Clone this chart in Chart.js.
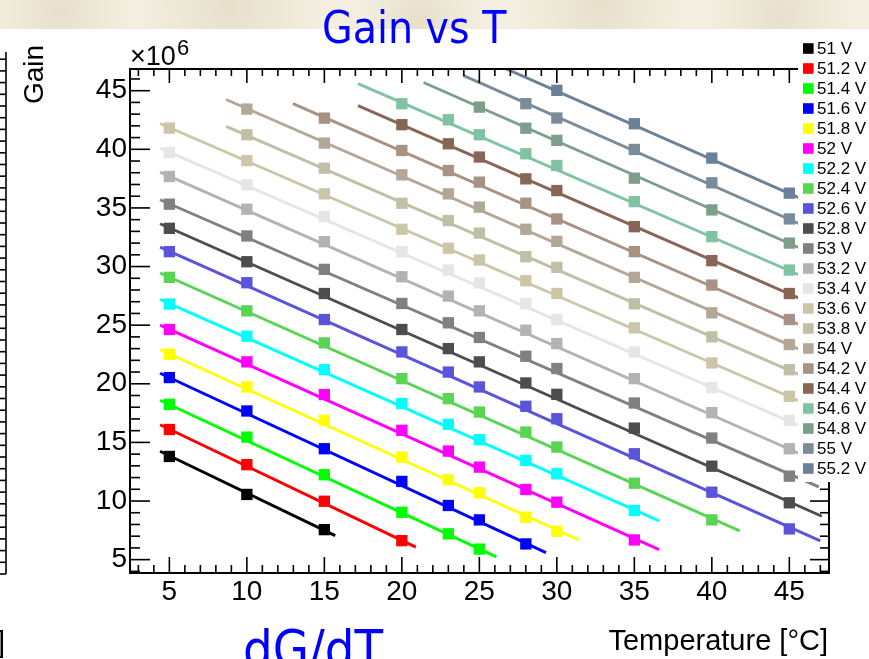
<!DOCTYPE html>
<html>
<head>
<meta charset="utf-8">
<title>Gain vs T</title>
<script src="https://cdn.jsdelivr.net/npm/chart.js@4.4.1/dist/chart.umd.min.js"></script>
<style>
  html, body { margin: 0; padding: 0; background: #fff; }
  #wrap { position: relative; width: 869px; height: 659px; overflow: hidden; }
  canvas { position: absolute; left: 0; top: 0; }
</style>
</head>
<body>
<div id="wrap"><canvas id="gainChart" width="869" height="659"></canvas></div>
<script>
// measured temperatures (deg C)
const temps = [5, 10, 15, 20, 23, 25, 28, 30, 35, 40, 45];

const voltages = ['51 V', '51.2 V', '51.4 V', '51.6 V', '51.8 V', '52 V', '52.2 V', '52.4 V',
  '52.6 V', '52.8 V', '53 V', '53.2 V', '53.4 V', '53.6 V', '53.8 V', '54 V', '54.2 V',
  '54.4 V', '54.6 V', '54.8 V', '55 V', '55.2 V'];

const colors = ['#000000', '#ff0000', '#00ff00', '#0000ff', '#ffff00', '#ff00ff', '#00ffff',
  '#59d454', '#5954d9', '#4d4d4d', '#808080', '#b3b3b3', '#e6e6e6', '#ccc6a9', '#c2bfa7',
  '#b3a797', '#a89283', '#876656', '#80c3a2', '#7d9e8b', '#7a8c99', '#6b8099'];

// gain (x10^6) at each temperature, null = not measured
const g51_0 = [13.8, 10.56, 7.56, null, null, null, null, null, null, null, null];
const g51_2 = [16.1, 13.1, 9.98, 6.62, null, null, null, null, null, null, null];
const g51_4 = [18.25, 15.45, 12.24, 9.04, 7.2, 5.9, null, null, null, null, null];
const g51_6 = [20.53, 17.68, 14.46, 11.67, 9.62, 8.39, 6.34, null, null, null, null];
const g51_8 = [22.52, 19.73, 16.88, 13.74, 11.81, 10.7, 8.62, 7.42, null, null, null];
const g52_0 = [24.63, 21.87, 19.08, 16.03, 14.26, 12.89, 10.98, 9.9, 6.68, null, null];
const g52_2 = [26.8, 24.06, 21.2, 18.31, 16.54, 15.23, 13.46, 12.32, 9.19, null, null];
const g52_4 = [29.08, 26.22, 23.49, 20.44, 18.73, 17.59, 15.88, 14.6, 11.52, 8.39, null];
const g52_6 = [31.27, 28.62, 25.48, 22.72, 21.0, 19.73, 18.08, 17.02, 14.03, 10.75, 7.62];
const g52_8 = [33.26, 30.41, 27.7, 24.63, 23.0, 21.87, 20.07, 19.1, 16.22, 12.97, 9.85];
const g53_0 = [35.32, 32.61, 29.76, 26.85, 25.2, 23.95, 22.35, 21.3, 18.36, 15.37, 12.12];
const g53_2 = [37.68, 34.89, 32.12, 29.13, 27.48, 26.22, 24.57, 23.43, 20.44, 17.54, 14.46];
const g53_4 = [39.73, 36.97, 34.26, 31.27, 29.7, 28.6, 26.85, 25.48, 22.72, 19.67, 16.88];
const g53_6 = [41.81, 39.04, 36.2, 33.18, 31.56, 30.56, 28.79, 27.7, 24.77, 21.78, 18.93];
const g53_8 = [null, 41.24, 38.39, 35.4, 33.92, 32.85, 30.84, 29.93, 26.82, 24.0, 21.2];
const g54_0 = [null, 43.43, 40.53, 37.82, 36.2, 35.07, 33.18, 32.15, 29.08, 26.05, 23.35];
const g54_2 = [null, null, 42.66, 39.9, 38.19, 37.2, 35.4, 34.06, 31.27, 28.42, 25.48];
const g54_4 = [null, null, null, 42.1, 40.47, 39.34, 37.48, 36.48, 33.4, 30.5, 27.7];
const g54_6 = [null, null, null, 43.89, 42.52, 41.24, 39.62, 38.62, 35.54, 32.55, 29.7];
const g54_8 = [null, null, null, null, null, 43.6, 41.8, 40.76, 37.54, 34.83, 32.0];
const g55_0 = [null, null, null, null, null, null, 43.89, 42.67, 39.99, 37.14, 34.06];
const g55_2 = [null, null, null, null, null, null, null, 45.03, 42.18, 39.25, 36.26];

const gains = [g51_0, g51_2, g51_4, g51_6, g51_8, g52_0, g52_2, g52_4, g52_6, g52_8, g53_0,
  g53_2, g53_4, g53_6, g53_8, g54_0, g54_2, g54_4, g54_6, g54_8, g55_0, g55_2];

// ends of the fitted lines
const fitFromT = [4.4, 4.4, 4.4, 4.4, 4.4, 4.4, 4.4, 4.4, 4.4, 4.4, 4.4, 4.4, 4.4, 4.4,
  8.66, 8.66, 12.97, 17.17, 17.17, 21.4, 23.95, 26.5];
const fitFromG = [14.25, 16.5, 18.6, 20.9, 22.9, 25.0, 27.2, 29.45, 31.65, 33.65, 35.7, 38.05,
  40.1, 42.2, 41.95, 44.25, 43.9, 43.72, 45.6, 45.7, 46.3, 47.0];
const fitToT = [15.7, 20.9, 26.1, 29.3, 31.4, 36.6, 36.6, 41.8, 47.0, 47.1, 46.9, 47.1, 47.1,
  47.1, 47.1, 47.1, 47.1, 47.1, 47.1, 47.1, 47.1, 47.1];
const fitToG = [7.05, 6.07, 5.24, 5.6, 6.7, 5.85, 8.3, 7.45, 6.6, 8.7, 11.2, 13.2, 15.6, 17.7,
  19.95, 22.1, 24.2, 26.45, 28.45, 30.75, 32.8, 35.0];

const xTicks = [5, 10, 15, 20, 25, 30, 35, 40, 45];
const yTicks = [5, 10, 15, 20, 25, 30, 35, 40, 45];

const FONT = '"Liberation Sans", Arial, Helvetica, sans-serif';
const HAND = '"DejaVu Sans Condensed", "DejaVu Sans", sans-serif';

const datasets = [];
gains.forEach((row, i) => {
  datasets.push({
    label: voltages[i],
    data: temps.map((t, k) => ({ x: t, y: row[k] })).filter(p => p.y !== null),
    showLine: false,
    pointStyle: 'rect',
    pointRadius: 8,
    pointBorderWidth: 0,
    backgroundColor: colors[i],
    borderColor: colors[i]
  });
  datasets.push({
    label: voltages[i] + ' fit',
    data: [{ x: fitFromT[i], y: fitFromG[i] }, { x: fitToT[i], y: fitToG[i] }],
    showLine: true,
    pointRadius: 0,
    borderWidth: 2.9,
    borderColor: colors[i],
    backgroundColor: colors[i]
  });
});

function seg(c, x1, y1, x2, y2) {
  c.beginPath(); c.moveTo(x1, y1); c.lineTo(x2, y2); c.stroke();
}

const rootStyle = {
  id: 'rootStyle',
  beforeDraw(chart) {
    const c = chart.ctx;
    c.save();
    c.fillStyle = '#ffffff';
    c.fillRect(0, 0, chart.width, chart.height);
    // parchment strip along the top
    c.fillStyle = '#f3eee0';
    c.fillRect(0, 0, chart.width, 29);
    const spots = [[60, 12, 70], [230, 8, 90], [420, 18, 60], [600, 6, 80], [780, 16, 70]];
    spots.forEach(([x, y, r]) => {
      const g = c.createRadialGradient(x, y, 0, x, y, r);
      g.addColorStop(0, 'rgba(222,212,188,0.55)');
      g.addColorStop(1, 'rgba(222,212,188,0)');
      c.fillStyle = g;
      c.fillRect(x - r, 0, 2 * r, 29);
    });
    // edge of the neighbouring pad on the left
    c.strokeStyle = '#000';
    c.lineWidth = 1.6;
    seg(c, 6, 52, 6, 574);
    seg(c, 0, 574, 6, 574);
    for (let y = 562.3; y > 52; y -= 11.7) seg(c, 0, y, 6, y);
    c.restore();
  },
  afterDatasetsDraw(chart) {
    const c = chart.ctx;
    const a = chart.chartArea;
    const xs = chart.scales.x, ys = chart.scales.y;
    c.save();
    c.strokeStyle = '#000';
    c.lineWidth = 1.6;
    for (let v = Math.ceil(xs.min); v <= xs.max; v++) {
      const px = xs.getPixelForValue(v);
      const major = v % 5 === 0;
      seg(c, px, a.bottom, px, a.bottom - (major ? 16 : 8));
      seg(c, px, a.top, px, a.top + (major ? 14 : 7));
    }
    for (let v = Math.ceil(ys.min); v <= ys.max; v++) {
      const py = ys.getPixelForValue(v);
      const major = v % 5 === 0;
      seg(c, a.left, py, a.left + (major ? 20 : 10), py);
      seg(c, a.right, py, a.right - (major ? 19 : 9), py);
    }
    c.lineWidth = 2;
    c.strokeRect(a.left, a.top, a.right - a.left, a.bottom - a.top);
    c.restore();
  },
  afterDraw(chart) {
    const c = chart.ctx;
    const a = chart.chartArea;
    c.save();
    // legend
    c.fillStyle = '#ffffff';
    c.fillRect(798, 35, 80, 447);
    c.font = '17px ' + FONT;
    c.textBaseline = 'middle';
    c.textAlign = 'left';
    voltages.forEach((v, i) => {
      const cy = 48.5 + 20 * i;
      c.fillStyle = colors[i];
      c.fillRect(803, cy - 5.3, 10.6, 10.6);
      c.fillStyle = '#000';
      c.fillText(v, 817, cy + 1);
    });
    // exponent
    c.textBaseline = 'alphabetic';
    c.fillStyle = '#000';
    c.font = '27px ' + FONT;
    c.fillText('\u00d710', a.left, 65);
    c.font = '22px ' + FONT;
    c.fillText('6', a.left + 47, 55);
    // axis titles
    c.font = '29px ' + FONT;
    c.textAlign = 'right';
    c.fillText('Temperature [\u00b0C]', a.right - 1, 650);
    c.textAlign = 'left';
    c.fillText(']', -3, 652);
    c.save();
    c.translate(43, 104);
    c.rotate(-Math.PI / 2);
    c.font = '28px ' + FONT;
    c.fillText('Gain', 0, 0);
    c.restore();
    // slide headings
    c.fillStyle = '#0000ff';
    c.font = '44px ' + HAND;
    c.fillText('Gain vs T', 322, 43);
    c.font = '52px ' + HAND;
    c.fillText('dG/dT', 243, 667);
    c.restore();
  }
};

new Chart(document.getElementById('gainChart'), {
  type: 'scatter',
  data: { datasets: datasets },
  plugins: [rootStyle],
  options: {
    responsive: false,
    animation: false,
    layout: { padding: { left: 70, right: 40, top: 69, bottom: 46 } },
    plugins: {
      legend: { display: false },
      tooltip: { enabled: false }
    },
    scales: {
      x: {
        type: 'linear',
        min: 2.46,
        max: 47.56,
        afterBuildTicks: s => { s.ticks = xTicks.map(v => ({ value: v })); },
        afterFit: s => { s.height = 40; },
        grid: { display: false, drawTicks: false },
        border: { display: false },
        ticks: { color: '#000', font: { family: FONT, size: 28 }, padding: 2, maxRotation: 0, autoSkip: false }
      },
      y: {
        type: 'linear',
        min: 3.86,
        max: 46.85,
        afterBuildTicks: s => { s.ticks = yTicks.map(v => ({ value: v })); },
        afterFit: s => { s.width = 60; },
        grid: { display: false, drawTicks: false },
        border: { display: false },
        ticks: { color: '#000', font: { family: FONT, size: 28 }, padding: 3, autoSkip: false }
      }
    }
  }
});
</script>
</body>
</html>
